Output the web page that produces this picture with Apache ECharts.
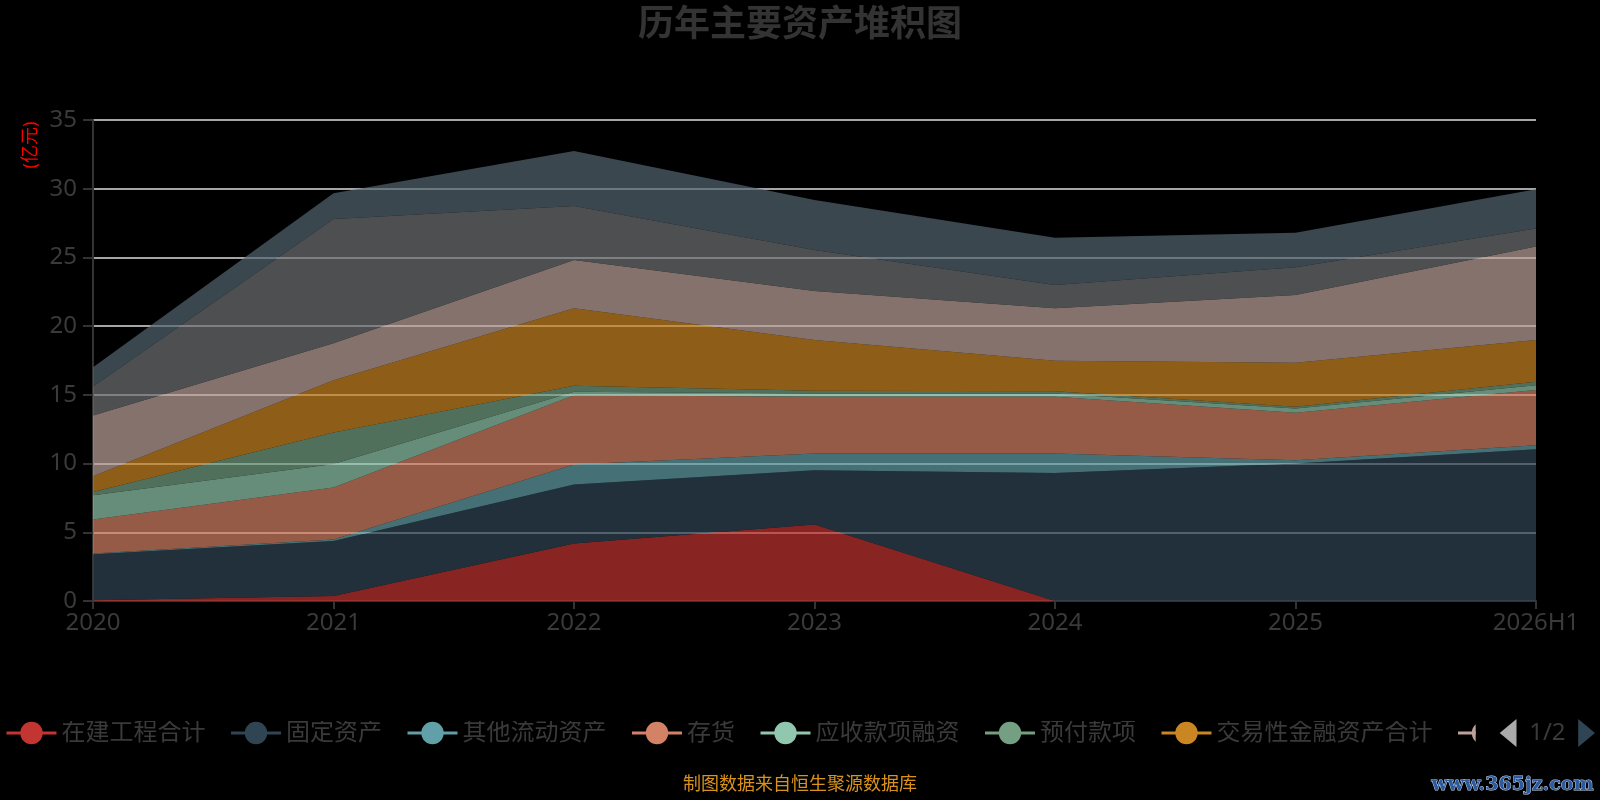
<!DOCTYPE html>
<html>
<head>
<meta charset="utf-8">
<script src="https://cdn.jsdelivr.net/npm/echarts@6/dist/echarts.min.js"></script>
<style>
html,body{margin:0;padding:0;background:#000;}
#c{width:1600px;height:800px;}
</style>
</head>
<body>
<div id="c"></div>
<script>
var categories = ['2020','2021','2022','2023','2024','2025','2026H1'];
var seriesNames = ['在建工程合计','固定资产','其他流动资产','存货','应收款项融资','预付款项','交易性金融资产合计','应收账款','货币资金','无形资产'];
var v_zjgc   = [0.05, 0.36, 4.18, 5.56, 0, 0, 0];
var v_gdzc   = [3.35, 4.01, 4.29, 3.96, 9.32, 10.0, 11.05];
var v_qtldzc = [0.05, 0.10, 1.46, 1.21, 1.41, 0.25, 0.29];
var v_ch     = [2.48, 3.79, 5.05, 4.13, 4.13, 3.45, 4.01];
var v_yskxrz = [1.77, 1.70, 0.24, 0.24, 0.24, 0.30, 0.35];
var v_yfkx   = [0.24, 2.30, 0.44, 0.20, 0.17, 0.13, 0.25];
var v_jyxjr  = [1.14, 3.81, 5.64, 3.69, 2.21, 3.21, 3.04];
var v_yszk   = [4.42, 2.68, 3.51, 3.57, 3.82, 4.92, 6.81];
var v_hbzj   = [2.10, 9.05, 3.94, 2.98, 1.69, 2.02, 1.30];
var v_wxzc   = [1.40, 1.87, 4.00, 3.64, 3.45, 2.52, 2.86];
var yTicks = [0, 35, 5];
var unitLabel = '(亿元)';
var footText = '制图数据来自恒生聚源数据库';
var titleText = '历年主要资产堆积图';

var allValues = [v_zjgc, v_gdzc, v_qtldzc, v_ch, v_yskxrz, v_yfkx, v_jyxjr, v_yszk, v_hbzj, v_wxzc];
var colors = ['#c23531','#2f4554','#61a0a8','#d48265','#91c7ae','#749f83','#ca8622','#bda29a','#6e7074','#546570'];
var FONT = '"Noto Sans", "Noto Sans CJK SC", sans-serif';

var series = seriesNames.map(function(n, i){
  return {
    name: n, type: 'line', stack: 'total',
    data: allValues[i],
    symbol: 'circle', showSymbol: false,
    lineStyle: {width: 0},
    areaStyle: {opacity: 0.7},
    itemStyle: {color: colors[i]},
    emphasis: {disabled: true}
  };
});

var chart = echarts.init(document.getElementById('c'));
chart.setOption({
  backgroundColor: '#000',
  animation: false,
  color: colors,
  title: {
    text: titleText, left: 'center', top: 3,
    textStyle: {color: '#333', fontSize: 36, fontWeight: 'bold', fontFamily: FONT}
  },
  grid: {left: 93, right: 64, top: 120, bottom: 199},
  legend: {
    type: 'scroll', bottom: 48, left: 0, right: -14,
    itemWidth: 50, itemHeight: 28, itemGap: 24,
    lineStyle: {width: 3},
    textStyle: {color: '#3a3a3a', fontSize: 24, fontFamily: FONT},
    pageIconColor: '#2f4554', pageIconInactiveColor: '#aaa',
    pageIconSize: [18, 28],
    pageButtonItemGap: 1,
    pageTextStyle: {color: '#3a3a3a', fontSize: 24, fontFamily: FONT},
    data: seriesNames
  },
  xAxis: {
    type: 'category', data: categories, boundaryGap: false,
    axisLine: {lineStyle: {color: '#333', width: 2}},
    axisTick: {length: 8, lineStyle: {color: '#333', width: 2}},
    axisLabel: {color: '#3a3a3a', fontSize: 24, margin: 10, fontFamily: FONT}
  },
  yAxis: {
    type: 'value', min: yTicks[0], max: yTicks[1], interval: yTicks[2],
    axisLine: {show: true, lineStyle: {color: '#333', width: 2}},
    axisTick: {show: true, length: 10, lineStyle: {color: '#333', width: 2}},
    axisLabel: {color: '#3a3a3a', fontSize: 24, margin: 16, fontFamily: FONT},
    splitLine: {lineStyle: {color: '#ddd', width: 1.5}}
  },
  graphic: [
    {type: 'text', x: 31, y: 145, rotation: Math.PI/2,
     style: {text: unitLabel, fill: '#ff0000', fontSize: 18, fontFamily: FONT, textAlign: 'center', textVerticalAlign: 'middle'}},
    {type: 'text', left: 'center', top: 776,
     style: {text: footText, fill: '#d9931c', fontSize: 18, fontFamily: FONT}},
    {type: 'text', right: 6, top: 775,
     style: {text: 'www.365jz.com', fill: '#2a5aa0', stroke: '#c8d4e8', lineWidth: 1, fontSize: 19, fontWeight: 'bold', fontFamily: '"DejaVu Serif", serif'}}
  ],
  series: series
});
</script>
</body>
</html>
